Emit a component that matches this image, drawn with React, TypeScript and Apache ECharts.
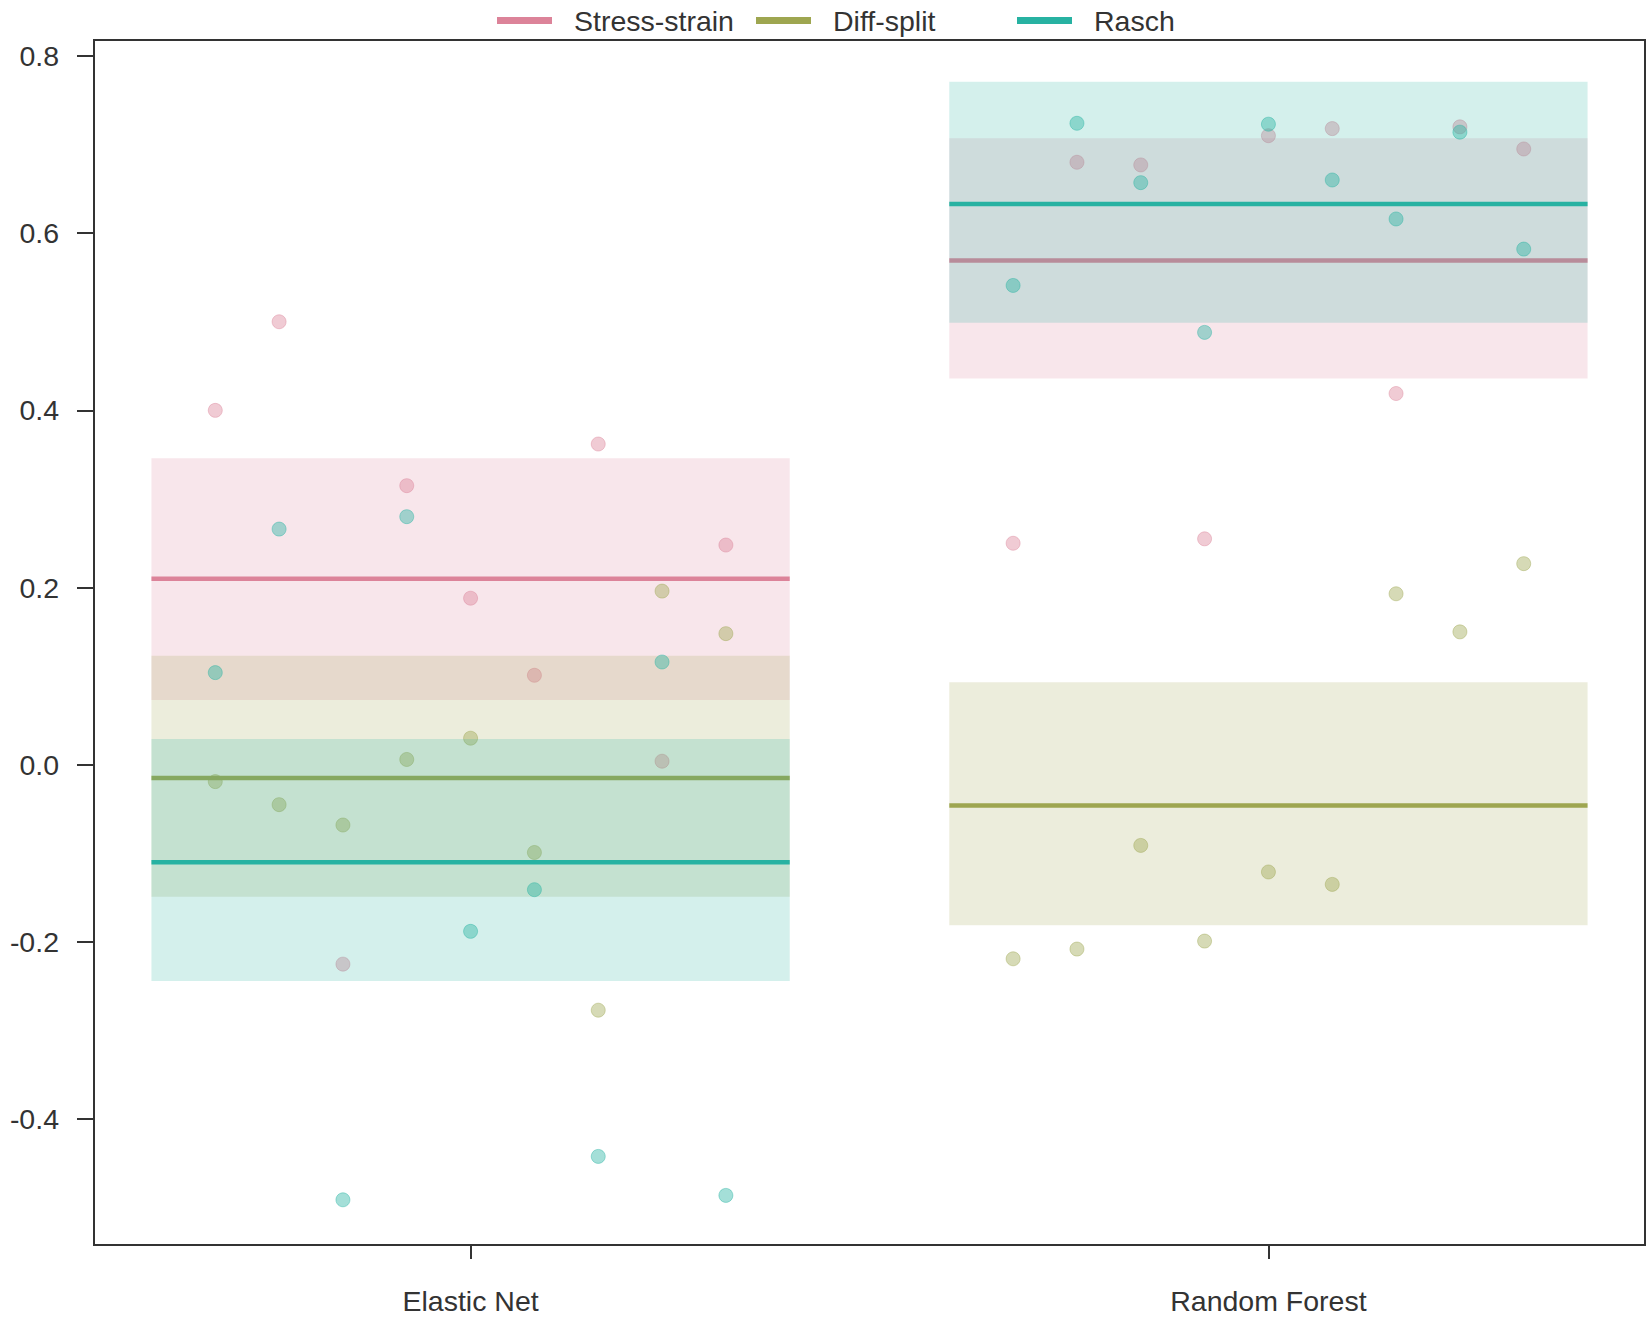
import React, { useEffect, useRef } from "react";
import * as echarts from "echarts";

// ---- data ----
const methods = ["Elastic Net", "Random Forest"];
const methodPos = [1, 2];
const runOffsets = [-0.32, -0.24, -0.16, -0.08, 0, 0.08, 0.16, 0.24, 0.32];
const seriesNames = ["Stress-strain", "Diff-split", "Rasch"];

const stressEN = [0.4, 0.5, -0.225, 0.315, 0.188, 0.101, 0.362, 0.004, 0.248];
const diffEN = [-0.019, -0.045, -0.068, 0.006, 0.03, -0.099, -0.277, 0.196, 0.148];
const raschEN = [0.104, 0.266, -0.491, 0.28, -0.188, -0.141, -0.442, 0.116, -0.486];
const stressRF = [0.25, 0.68, 0.677, 0.255, 0.71, 0.718, 0.419, 0.72, 0.695];
const diffRF = [-0.219, -0.208, -0.091, -0.199, -0.121, -0.135, 0.193, 0.15, 0.227];
const raschRF = [0.541, 0.724, 0.657, 0.488, 0.723, 0.66, 0.616, 0.714, 0.582];

// mean lines [Elastic Net, Random Forest]
const stressMean = [0.21, 0.569];
const diffMean = [-0.015, -0.046];
const raschMean = [-0.11, 0.633];

// bands [low, high] per method
const stressBand = [[0.073, 0.346], [0.436, 0.707]];
const diffBand = [[-0.149, 0.123], [-0.181, 0.093]];
const raschBand = [[-0.244, 0.029], [0.499, 0.771]];

const yTicks = [-0.4, -0.2, 0, 0.2, 0.4, 0.6, 0.8];

// ---- styles ----
const colors = ["#DC8399", "#9EA650", "#27B2A2"];
const FONT = "'Liberation Sans', Arial, Helvetica, sans-serif";
const BAND_HALF = 0.4;

export default function App() {
  const ref = useRef<HTMLDivElement>(null);
  useEffect(() => {
    if (!ref.current) return;
    const chart = echarts.init(ref.current, undefined, { renderer: "svg" });
    const groups = [
      { points: [stressEN, stressRF], mean: stressMean, band: stressBand },
      { points: [diffEN, diffRF], mean: diffMean, band: diffBand },
      { points: [raschEN, raschRF], mean: raschMean, band: raschBand },
    ];
    const series: any[] = [];
    groups.forEach((g, gi) => {
      const color = colors[gi];
      const name = seriesNames[gi];
      const pts: number[][] = [];
      methodPos.forEach((mp, mi) => {
        g.points[mi].forEach((v, ri) => pts.push([mp + runOffsets[ri], v]));
      });
      series.push({
        type: "scatter",
        name,
        data: pts,
        symbol: "circle",
        symbolSize: 14,
        itemStyle: { color, opacity: 0.42, borderColor: color, borderWidth: 1 },
        z: gi * 3 + 1,
        silent: true,
      });
      series.push({
        type: "custom",
        name,
        data: methodPos.map((mp, mi) => [mp, g.band[mi][0], g.band[mi][1]]),
        encode: { x: 0, y: [1, 2] },
        z: gi * 3 + 2,
        silent: true,
        renderItem: (params: any, api: any) => {
          const x = api.value(0);
          const lo = api.value(1);
          const hi = api.value(2);
          const p1 = api.coord([x - BAND_HALF, hi]);
          const p2 = api.coord([x + BAND_HALF, lo]);
          return {
            type: "rect",
            shape: { x: p1[0], y: p1[1], width: p2[0] - p1[0], height: p2[1] - p1[1] },
            style: { fill: color, opacity: 0.2 },
          };
        },
      });
      series.push({
        type: "custom",
        name,
        data: methodPos.map((mp, mi) => [mp, g.mean[mi]]),
        encode: { x: 0, y: 1 },
        z: gi * 3 + 3,
        silent: true,
        renderItem: (params: any, api: any) => {
          const x = api.value(0);
          const m = api.value(1);
          const p1 = api.coord([x - BAND_HALF, m]);
          const p2 = api.coord([x + BAND_HALF, m]);
          return {
            type: "line",
            shape: { x1: p1[0], y1: p1[1], x2: p2[0], y2: p2[1] },
            style: { stroke: color, lineWidth: 4.5 },
          };
        },
      });
    });

    const legendLefts = [497, 756, 1017];
    const option: any = {
      animation: false,
      backgroundColor: "#ffffff",
      textStyle: { fontFamily: FONT },
      legend: seriesNames.map((n, i) => ({
        data: [{ name: n, icon: "rect", itemStyle: { color: colors[i], opacity: 1 } }],
        left: legendLefts[i],
        top: 6,
        padding: 0,
        itemWidth: 53,
        itemHeight: 5,
        selectedMode: false,
        textStyle: { fontSize: 28.5, color: "#333", fontFamily: FONT, padding: [0, 0, 0, 18] },
      })),
      grid: {
        left: 94,
        right: 5,
        top: 40,
        bottom: 73,
        show: true,
        borderColor: "#333",
        borderWidth: 2,
        backgroundColor: "transparent",
      },
      xAxis: {
        type: "value",
        min: 0.528,
        max: 2.472,
        splitLine: { show: false },
        axisLine: { show: false, onZero: false },
        axisTick: {
          show: true,
          customValues: methodPos,
          length: 14,
          lineStyle: { color: "#333", width: 2 },
        },
        axisLabel: {
          customValues: methodPos,
          formatter: (v: number) => methods[methodPos.indexOf(Math.round(v))] ?? "",
          fontSize: 28.5,
          lineHeight: 28,
          color: "#333",
          fontFamily: FONT,
          margin: 42,
        },
      },
      yAxis: {
        type: "value",
        min: -0.542,
        max: 0.818,
        splitLine: { show: false },
        axisLine: { show: false, onZero: false },
        axisTick: {
          show: true,
          customValues: yTicks,
          length: 17,
          lineStyle: { color: "#333", width: 2 },
        },
        axisLabel: {
          customValues: yTicks,
          formatter: (v: number) => v.toFixed(1),
          fontSize: 28.5,
          color: "#333",
          fontFamily: FONT,
          margin: 35,
        },
      },
      series,
    };
    chart.setOption(option);
    return () => chart.dispose();
  }, []);
  return (
    <div
      ref={ref}
      style={{ position: "absolute", left: 0, top: 0, width: 1650, height: 1318 }}
    />
  );
}
